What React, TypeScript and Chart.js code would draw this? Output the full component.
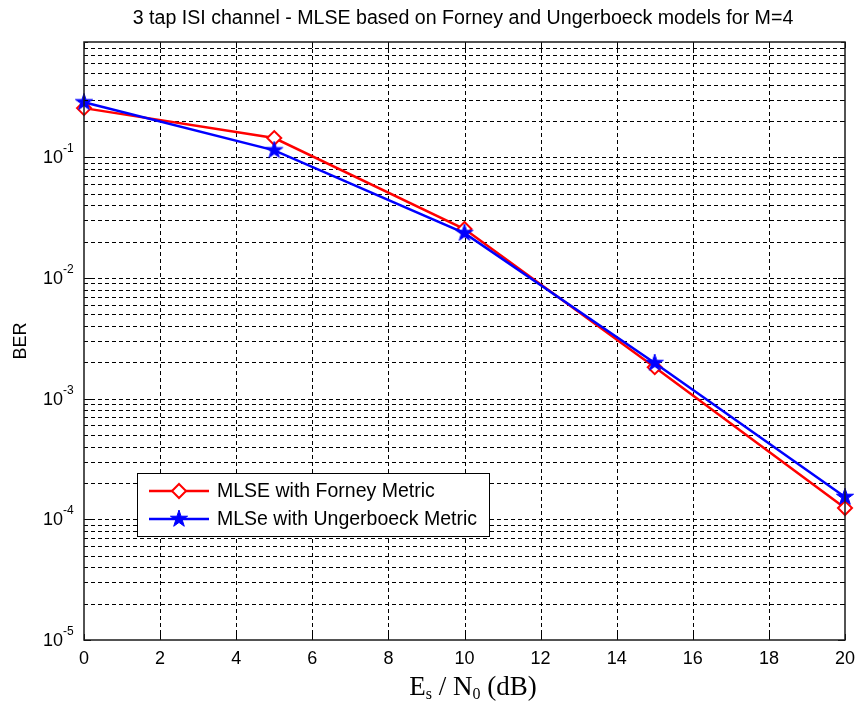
import React, { useEffect, useRef } from 'react';
import { Chart, registerables } from 'chart.js';

Chart.register(...registerables);

// ---- Data ----
const snrDb = [0, 5, 10, 15, 20];
const berForney = [0.255, 0.144, 0.0254, 0.00182, 0.000124];
const berUngerboeck = [0.285, 0.114, 0.0235, 0.00197, 0.000153];

const xTicks = [0, 2, 4, 6, 8, 10, 12, 14, 16, 18, 20];
const yDecades = [1e-5, 1e-4, 1e-3, 1e-2, 1e-1];
const yExponents = ['-5', '-4', '-3', '-2', '-1'];
const yMinorMultiples = [2, 3, 4, 5, 6, 7, 8, 9];

const titleText = '3 tap ISI channel - MLSE based on Forney and Ungerboeck models for M=4';
const yLabelText = 'BER';
const legendLabels = ['MLSE with Forney Metric', 'MLSe with Ungerboeck Metric'];

const X_MIN = 0;
const X_MAX = 20;
const Y_MIN = 1e-5;
const Y_MAX = 0.9;

const SANS = '"Liberation Sans", Arial, sans-serif';
const SERIF = '"Liberation Serif", "Times New Roman", serif';
const RED = '#ff0000';
const BLUE = '#0000ff';

function pentagramPath(ctx: CanvasRenderingContext2D, cx: number, cy: number, R: number) {
  const r = R * 0.382;
  ctx.beginPath();
  for (let i = 0; i < 10; i++) {
    const ang = -Math.PI / 2 + (i * Math.PI) / 5;
    const rad = i % 2 === 0 ? R : r;
    const px = cx + rad * Math.cos(ang);
    const py = cy + rad * Math.sin(ang);
    if (i === 0) ctx.moveTo(px, py);
    else ctx.lineTo(px, py);
  }
  ctx.closePath();
}

function drawStar(ctx: CanvasRenderingContext2D, cx: number, cy: number, R: number) {
  pentagramPath(ctx, cx, cy, R);
  ctx.fillStyle = BLUE;
  ctx.fill();
  ctx.strokeStyle = BLUE;
  ctx.lineWidth = 1;
  ctx.stroke();
}

function drawDiamond(ctx: CanvasRenderingContext2D, cx: number, cy: number, r: number) {
  ctx.beginPath();
  ctx.moveTo(cx - r, cy);
  ctx.lineTo(cx, cy - r);
  ctx.lineTo(cx + r, cy);
  ctx.lineTo(cx, cy + r);
  ctx.closePath();
  ctx.fillStyle = '#ffffff';
  ctx.fill();
  ctx.strokeStyle = RED;
  ctx.lineWidth = 2;
  ctx.stroke();
}

function makeStarCanvas(R: number): HTMLCanvasElement {
  const size = Math.ceil(2 * R + 4);
  const c = document.createElement('canvas');
  c.width = size;
  c.height = size;
  const g = c.getContext('2d')!;
  drawStar(g, size / 2, size / 2, R);
  return c;
}

const matlabPlugin = {
  id: 'matlabAxes',
  beforeDatasetsDraw(chart: any) {
    const { ctx, chartArea: a, scales } = chart;
    const x = scales.x;
    const y = scales.y;
    ctx.save();
    ctx.strokeStyle = '#000';
    ctx.lineWidth = 1;
    ctx.setLineDash([4, 3]);
    ctx.beginPath();
    for (const t of xTicks) {
      if (t <= X_MIN || t >= X_MAX) continue;
      const px = Math.round(x.getPixelForValue(t)) + 0.5;
      ctx.moveTo(px, a.top);
      ctx.lineTo(px, a.bottom);
    }
    for (const d of yDecades) {
      for (const m of [1, ...yMinorMultiples]) {
        const v = d * m;
        if (v <= Y_MIN * 1.0001 || v >= Y_MAX * 0.999) continue;
        const py = Math.round(y.getPixelForValue(v)) + 0.5;
        ctx.moveTo(a.left, py);
        ctx.lineTo(a.right, py);
      }
    }
    ctx.stroke();
    ctx.restore();
  },
  afterDraw(chart: any) {
    const { ctx, chartArea: a, scales } = chart;
    const x = scales.x;
    const y = scales.y;
    ctx.save();
    ctx.setLineDash([]);

    // tick marks
    ctx.strokeStyle = '#000';
    ctx.lineWidth = 1;
    ctx.beginPath();
    for (const t of xTicks) {
      const px = Math.round(x.getPixelForValue(t)) + 0.5;
      ctx.moveTo(px, a.bottom);
      ctx.lineTo(px, a.bottom - 6);
      ctx.moveTo(px, a.top);
      ctx.lineTo(px, a.top + 6);
    }
    for (const d of yDecades) {
      for (const m of [1, ...yMinorMultiples]) {
        const v = d * m;
        if (v < Y_MIN * 0.9999 || v > Y_MAX * 1.0001) continue;
        const py = Math.round(y.getPixelForValue(v)) + 0.5;
        const len = m === 1 ? 7 : 4;
        ctx.moveTo(a.left, py);
        ctx.lineTo(a.left + len, py);
        ctx.moveTo(a.right, py);
        ctx.lineTo(a.right - len, py);
      }
    }
    ctx.stroke();

    // axes box
    ctx.strokeStyle = '#1a1a1a';
    ctx.lineWidth = 1.5;
    ctx.strokeRect(a.left, a.top, a.right - a.left, a.bottom - a.top);

    // x tick labels
    ctx.fillStyle = '#000';
    ctx.font = `18px ${SANS}`;
    ctx.textAlign = 'center';
    ctx.textBaseline = 'alphabetic';
    for (const t of xTicks) {
      ctx.fillText(String(t), x.getPixelForValue(t), a.bottom + 24);
    }

    // y tick labels 10^n
    yDecades.forEach((d, i) => {
      const py = y.getPixelForValue(d);
      ctx.font = `18px ${SANS}`;
      ctx.textAlign = 'right';
      ctx.textBaseline = 'middle';
      ctx.fillText('10', a.left - 21, py + 1);
      ctx.font = `12px ${SANS}`;
      ctx.textAlign = 'left';
      ctx.textBaseline = 'alphabetic';
      ctx.fillText(yExponents[i], a.left - 21, py - 5);
    });

    // title
    ctx.font = `19.6px ${SANS}`;
    ctx.textAlign = 'center';
    ctx.textBaseline = 'alphabetic';
    ctx.fillText(titleText, 463, 24);

    // y label
    ctx.save();
    ctx.translate(21, (a.top + a.bottom) / 2);
    ctx.rotate(-Math.PI / 2);
    ctx.font = `18px ${SANS}`;
    ctx.textAlign = 'center';
    ctx.textBaseline = 'middle';
    ctx.fillText(yLabelText, 0, 0);
    ctx.restore();

    // x label: E_s / N_0 (dB)
    const big = `27px ${SERIF}`;
    const small = `16px ${SERIF}`;
    const parts: [string, string, number][] = [
      ['E', big, 0],
      ['s', small, 4],
      [' / ', big, 0],
      ['N', big, 0],
      ['0', small, 4],
      [' (dB)', big, 0],
    ];
    let total = 0;
    for (const [s, f] of parts) {
      ctx.font = f;
      total += ctx.measureText(s).width;
    }
    let cx = 473 - total / 2;
    const base = 695;
    ctx.textAlign = 'left';
    ctx.textBaseline = 'alphabetic';
    for (const [s, f, off] of parts) {
      ctx.font = f;
      ctx.fillText(s, cx, base + off);
      cx += ctx.measureText(s).width;
    }

    // legend
    const lx = a.left + 53;
    const ly = a.top + 431;
    const lw = 352;
    const lh = 63;
    ctx.fillStyle = '#ffffff';
    ctx.fillRect(lx, ly, lw, lh);
    ctx.strokeStyle = '#000';
    ctx.lineWidth = 1;
    ctx.strokeRect(lx + 0.5, ly + 0.5, lw, lh);
    const rows = [ly + 18, ly + 46];
    const colors = [RED, BLUE];
    rows.forEach((ry, i) => {
      ctx.strokeStyle = colors[i];
      ctx.lineWidth = 2.5;
      ctx.beginPath();
      ctx.moveTo(lx + 12, ry);
      ctx.lineTo(lx + 72, ry);
      ctx.stroke();
      if (i === 0) drawDiamond(ctx, lx + 42, ry, 7);
      else drawStar(ctx, lx + 42, ry, 9);
      ctx.fillStyle = '#000';
      ctx.font = `19.5px ${SANS}`;
      ctx.textAlign = 'left';
      ctx.textBaseline = 'middle';
      ctx.fillText(legendLabels[i], lx + 80, ry + 1);
    });

    ctx.restore();
  },
};

export default function App() {
  const canvasRef = useRef<HTMLCanvasElement | null>(null);

  useEffect(() => {
    const canvas = canvasRef.current;
    if (!canvas) return;
    const starImg = makeStarCanvas(9);
    const chart = new Chart(canvas, {
      type: 'line',
      data: {
        datasets: [
          {
            label: legendLabels[0],
            data: snrDb.map((v, i) => ({ x: v, y: berForney[i] })),
            borderColor: RED,
            borderWidth: 2.5,
            pointStyle: 'rectRot',
            pointRadius: 7,
            pointBorderColor: RED,
            pointBackgroundColor: '#ffffff',
            pointBorderWidth: 2,
            clip: false,
            order: 1,
            tension: 0,
          },
          {
            label: legendLabels[1],
            data: snrDb.map((v, i) => ({ x: v, y: berUngerboeck[i] })),
            borderColor: BLUE,
            borderWidth: 2.5,
            pointStyle: starImg as any,
            pointRadius: 9,
            pointBorderColor: BLUE,
            pointBackgroundColor: BLUE,
            clip: false,
            order: 0,
            tension: 0,
          },
        ],
      },
      options: {
        responsive: false,
        animation: false,
        events: [],
        layout: { padding: { left: 84, top: 42, right: 14, bottom: 65 } },
        plugins: {
          legend: { display: false },
          tooltip: { enabled: false },
          title: { display: false },
        },
        scales: {
          x: { type: 'linear', min: X_MIN, max: X_MAX, display: false },
          y: { type: 'logarithmic', min: Y_MIN, max: Y_MAX, display: false },
        },
      },
      plugins: [matlabPlugin],
    });
    return () => chart.destroy();
  }, []);

  return (
    <div style={{ position: 'absolute', left: 0, top: 0, width: 859, height: 705, background: '#fff' }}>
      <canvas ref={canvasRef} width={859} height={705} style={{ display: 'block' }} />
    </div>
  );
}
